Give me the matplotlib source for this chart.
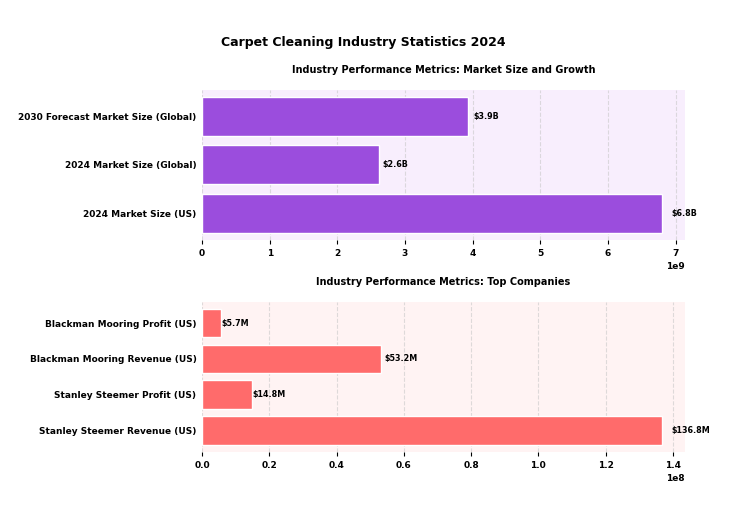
import matplotlib.pyplot as plt

market_labels = ["2024 Market Size (US)", "2024 Market Size (Global)", "2030 Forecast Market Size (Global)"]
market_values = [6.8e9, 2.62e9, 3.93e9]
market_text = ["$6.8B", "$2.6B", "$3.9B"]

company_labels = ["Stanley Steemer Revenue (US)", "Stanley Steemer Profit (US)",
                  "Blackman Mooring Revenue (US)", "Blackman Mooring Profit (US)"]
company_values = [136.8e6, 14.8e6, 53.2e6, 5.7e6]
company_text = ["$136.8M", "$14.8M", "$53.2M", "$5.7M"]

fig = plt.figure(figsize=(7.41, 5.17), dpi=100)
fig.suptitle("Carpet Cleaning Industry Statistics 2024", fontsize=9, fontweight="bold", x=0.49, y=0.93)

ax1 = fig.add_axes([0.2726, 0.536, 0.652, 0.29])
ax2 = fig.add_axes([0.2726, 0.126, 0.652, 0.29])


def panel(ax, labels, values, texts, color, bg, title):
    ax.set_facecolor(bg)
    y = range(len(labels))
    ax.barh(y, values, height=0.8, color=color, edgecolor="white", linewidth=1)
    ax.set_yticks(list(y))
    ax.set_yticklabels(labels, fontsize=6.5, fontweight="bold")
    ax.set_xlim(0, max(values) * 1.05)
    for v, i, t in zip(values, y, texts):
        # label sits just past the bar end
        ax.text(v * 1.02, i, t, va="center", ha="left", fontsize=5.8, fontweight="bold")
    ax.grid(axis="x", linestyle="--", alpha=0.6, color="#c8c8c8")
    ax.set_axisbelow(True)
    for s in ax.spines.values():
        s.set_visible(False)
    ax.tick_params(axis="y", length=0, pad=4)
    ax.tick_params(axis="x", labelsize=6.5, length=3)
    for lb in ax.get_xticklabels():
        lb.set_fontweight("bold")
    ax.xaxis.get_offset_text().set_fontsize(6.5)
    ax.xaxis.get_offset_text().set_fontweight("bold")
    ax.set_title(title, fontsize=7, fontweight="bold", pad=12.5)


panel(ax1, market_labels, market_values, market_text, "#9b4ddd", "#f8eefd",
      "Industry Performance Metrics: Market Size and Growth")
panel(ax2, company_labels, company_values, company_text, "#ff6b6b", "#fff3f3",
      "Industry Performance Metrics: Top Companies")

fig.savefig("out.png", dpi=100)
